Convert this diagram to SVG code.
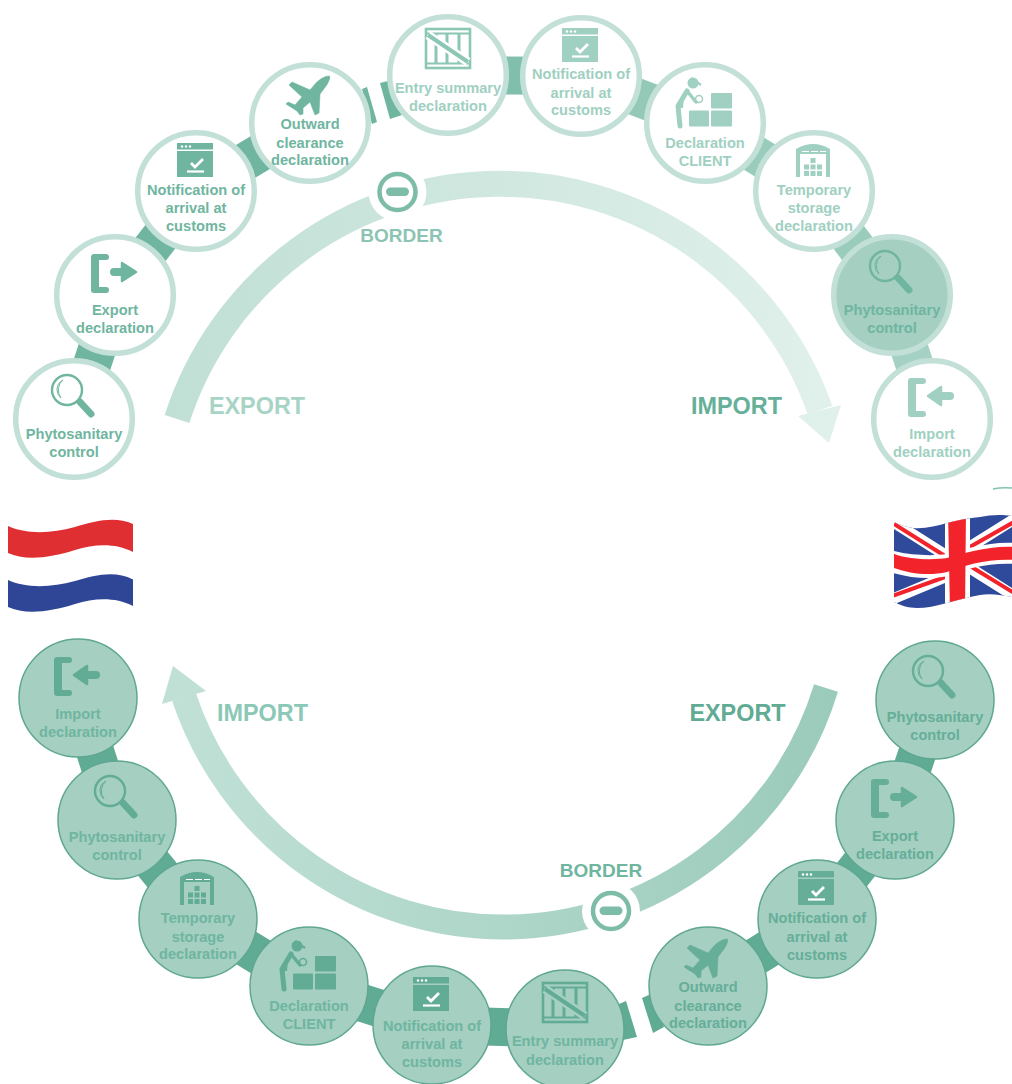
<svg xmlns="http://www.w3.org/2000/svg" width="1012" height="1084" viewBox="0 0 1012 1084">
<style>
text{font-family:"Liberation Sans",Arial,sans-serif;font-weight:bold;text-anchor:middle}
.n text{font-size:14.6px;fill:currentColor}
.big{font-size:23.4px}
.bd{font-size:19px}
.top circle.r{fill:#fff;stroke:#c2e0d7;stroke-width:5.5}
.dark circle.r{fill:#a4cfc1;stroke:#c2e0d7;stroke-width:5.5}
.bot circle.r{fill:#a4cfc1;stroke:#5fa792;stroke-width:1.5}
.c1{color:#6fb5a0}.c2{color:#a0d0c1}.c3{color:#66ae98}
.ln{fill:none;stroke-linecap:butt}
</style>
<defs>
<linearGradient id="ga" gradientUnits="userSpaceOnUse" x1="165" y1="0" x2="820" y2="0"><stop offset="0" stop-color="#c0dfd5"/><stop offset="1" stop-color="#e0f0eb"/></linearGradient>
<linearGradient id="gb" gradientUnits="userSpaceOnUse" x1="830" y1="0" x2="184" y2="0"><stop offset="0" stop-color="#9bcbbb"/><stop offset="1" stop-color="#c0e0d6"/></linearGradient>
<clipPath id="uk"><path d="M894,522C900,525 906,527 913,528C925,529 936,526 947,523C958,520 969,518 980,517C990,515 1000,514 1012,516L1012,597C1002,595 990,593 980,595C968,597 958,600 947,603C936,606 926,608 917,608C908,608 900,605 894,602Z"/></clipPath>
<g id="i-mag"><circle cx="-7" cy="-29" r="15" fill="none" stroke="currentColor" stroke-width="2.400"/><path d="M-17,-29A11,11 0 0 1 -11,-39A13,13 0 0 0 -13,-21A11,11 0 0 1 -17,-29Z" fill="none" stroke="currentColor" stroke-width="1"/><path d="M6,-17L17,-5" fill="none" stroke="currentColor" stroke-width="7" stroke-linecap="round"/></g>
<g id="i-brk"><path d="M-21,-41H-9A3,3 0 0 1 -9,-35H-16V-8H-9A3,3 0 0 1 -9,-2H-21A3,3 0 0 1 -24,-5V-38A3,3 0 0 1 -21,-41Z" fill="currentColor"/></g>
<g id="i-exp"><use href="#i-brk"/><path d="M-1,-23H11" stroke="currentColor" stroke-width="8" stroke-linecap="round"/><path d="M7,-32L21,-23L7,-14Z" fill="currentColor" stroke="currentColor" stroke-width="2.500" stroke-linejoin="round"/></g>
<g id="i-imp"><use href="#i-brk"/><path d="M6,-23H18" stroke="currentColor" stroke-width="8" stroke-linecap="round"/><path d="M9,-32L-4,-23L9,-14Z" fill="currentColor" stroke="currentColor" stroke-width="2.500" stroke-linejoin="round"/></g>
<g id="i-not"><path d="M-19,-48H17V-41.500H-19ZM-19,-40H17V-14H-19Z" fill="currentColor"/><circle cx="-14" cy="-44.500" r="1.200" fill="#fff"/><circle cx="-10" cy="-44.500" r="1.200" fill="#fff"/><circle cx="-6" cy="-44.500" r="1.200" fill="#fff"/><path d="M-5,-28L-1,-24L7,-32" fill="none" stroke="#fff" stroke-width="2.800"/><path d="M-9,-19.500H8" stroke="#fff" stroke-width="2.200"/></g>
<g id="i-plane"><path d="M19,-47C15,-47 10,-44 6,-40L0,-33L-18,-41L-21,-38L-8,-26L-15,-18L-22,-21L-24,-19L-13,-12L-10,-8L-7,-9L-7,-15L0,-21L5,-8L9,-10L10,-29L16,-37C19,-41 21,-47 19,-47Z" fill="currentColor" stroke="currentColor" stroke-width=".6" stroke-linejoin="round"/></g>
<g id="i-crate" fill="none" stroke="currentColor"><rect x="-22" y="-46" width="44" height="39" stroke-width="2.600"/><path d="M-22,-41.500H22M-22,-11.500H22" stroke-width="2"/><path d="M-12,-41V-12M-1,-41V-12M11,-41V-12" stroke-width="3"/><path d="M-20,-40L20,-13" stroke="#fff" stroke-width="9"/><path d="M-20,-40L20,-13" stroke-width="4"/></g>
<g id="i-per"><rect x="6" y="-30" width="21" height="15.500" fill="currentColor" rx="1"/><rect x="-16" y="-12.500" width="20" height="16" fill="currentColor" rx="1"/><rect x="6" y="-12.500" width="21" height="16" fill="currentColor" rx="1"/><circle cx="-12" cy="-40" r="5.500" fill="currentColor"/><path d="M-14,-45L-4,-38" stroke="currentColor" stroke-width="2.200"/><path d="M-18,-32L-27,-17L-25,3" fill="none" stroke="currentColor" stroke-width="5" stroke-linecap="round" stroke-linejoin="round"/><path d="M-18,-32L-9,-21" fill="none" stroke="currentColor" stroke-width="3.500" stroke-linecap="round"/><path d="M-21,-27L-26,-15L-22,-15Z" fill="currentColor"/><circle cx="-6" cy="-24" r="3.500" fill="none" stroke="currentColor" stroke-width="1.500"/></g>
<g id="i-wh"><path d="M-18,-14V-42Q-1,-52 16,-42V-14H12V-37H-14V-14Z" fill="currentColor"/><path d="M-12,-39.500h7M-3,-39.500h7M6,-39.500h6" stroke="#fff" stroke-width="1.200"/><path d="M-3.500,-33h5v5h-5zM-10,-26.500h5v5h-5zM-3.500,-26.500h5v5h-5zM3,-26.500h5v5h-5zM-10,-20h5v5h-5zM-3.500,-20h5v5h-5zM3,-20h5v5h-5z" fill="currentColor"/></g>
</defs>

<g id="connectors">
<g class="ln" stroke-width="38">
<path d="M74,419L115,295" stroke="#6fb5a0"/>
<path d="M115,295L196,191" stroke="#6fb5a0"/>
<path d="M196,191L310,123" stroke="#6fb5a0"/>
<path d="M448,75L581,76" stroke="#7fbfac"/>
<path d="M581,76L705,123" stroke="#94c9b8"/>
<path d="M705,123L814,191" stroke="#9accbc"/>
<path d="M814,191L892,295" stroke="#9accbc"/>
<path d="M892,295L932,419" stroke="#a4d1c3"/>
<path d="M78,698L117,820" stroke="#5fab94"/>
<path d="M117,820L198,919" stroke="#5fab94"/>
<path d="M198,919L309,986" stroke="#5fab94"/>
<path d="M309,986L432,1025" stroke="#5fab94"/>
<path d="M432,1025L565,1029" stroke="#5fab94"/>
<path d="M708,986L817,919" stroke="#5fab94"/>
<path d="M817,919L895,820" stroke="#5fab94"/>
<path d="M895,820L935,700" stroke="#5fab94"/>
</g>
<polygon points="362,89 367,87 377,122 372,124" fill="#6fb5a0"/>
<polygon points="380,83 388,81 402,115 390,119" fill="#6fb5a0"/>
<polygon points="642,998 651,994 664,1027 653,1033" fill="#5fab94"/>
<polygon points="619,1004 626,1001 637,1037 623,1040" fill="#5fab94"/>
</g>

<g id="flows">
<path d="M177,419A339.400,339.400 0 0 1 820,410" fill="none" stroke="url(#ga)" stroke-width="26"/>
<polygon points="798,416 841,405 829,443" fill="#e0f0eb"/>
<path d="M826,688A337,337 0 0 1 184,697" fill="none" stroke="url(#gb)" stroke-width="25"/>
<polygon points="162,704 206,691 173,666" fill="#c0e0d6"/>
</g>

<g id="border-top" color="#7dbca9">
<circle cx="397.500" cy="192" r="29" fill="#fff"/>
<circle cx="397.500" cy="192" r="18" fill="#fff" stroke="currentColor" stroke-width="4.500"/>
<rect x="386" y="187.500" width="23" height="8.500" rx="4.200" fill="currentColor"/>
<text class="bd" x="401.500" y="242" fill="#8cc4b3">BORDER</text>
</g>
<g id="border-bottom" color="#7dbca9">
<circle cx="611" cy="911" r="29" fill="#fff"/>
<circle cx="611" cy="911" r="18" fill="#fff" stroke="currentColor" stroke-width="4.500"/>
<rect x="599.500" y="906.500" width="23" height="8.500" rx="4.200" fill="currentColor"/>
<text class="bd" x="601" y="877" fill="#6fb5a0">BORDER</text>
</g>
<text class="big" x="257" y="414" fill="#a8d4c6">EXPORT</text>
<text class="big" x="736.500" y="414" fill="#66b09a">IMPORT</text>
<text class="big" x="262.500" y="721" fill="#8cc8b6">IMPORT</text>
<text class="big" x="737.500" y="721" fill="#5fab94">EXPORT</text>

<g id="top-phyto" class="n top c1" transform="translate(74,419)"><circle class="r" r="58.300"/><use href="#i-mag"/><text y="19.500">Phytosanitary</text><text y="38">control</text></g>
<g id="top-export" class="n top c1" transform="translate(115,295)"><circle class="r" r="58.300"/><use href="#i-exp"/><text y="20">Export</text><text y="38">declaration</text></g>
<g id="top-notification" class="n top c1" transform="translate(196,191)"><circle class="r" r="58.300"/><use href="#i-not"/><text y="4">Notification of</text><text y="22">arrival at</text><text y="40">customs</text></g>
<g id="top-outward" class="n top c1" transform="translate(310,123)"><circle class="r" r="58.300"/><use href="#i-plane"/><text y="6">Outward</text><text y="25">clearance</text><text y="42">declaration</text></g>
<g id="top-entry" class="n top c2" transform="translate(448,75)"><circle class="r" r="58.300"/><use href="#i-crate" color="#8cc6b5"/><text y="18">Entry summary</text><text y="36">declaration</text></g>
<g id="top-notification-2" class="n top c2" transform="translate(581,76)"><circle class="r" r="58.300"/><use href="#i-not"/><text y="3">Notification of</text><text y="22">arrival at</text><text y="39">customs</text></g>
<g id="top-declaration" class="n top c2" transform="translate(705,123)"><circle class="r" r="58.300"/><use href="#i-per"/><text y="25">Declaration</text><text y="43">CLIENT</text></g>
<g id="top-temporary" class="n top c2" transform="translate(814,191)"><circle class="r" r="58.300"/><use href="#i-wh"/><text y="4">Temporary</text><text y="22">storage</text><text y="40">declaration</text></g>
<g id="top-phyto-dark" class="n dark c1" transform="translate(892,295)"><circle class="r" r="58.300"/><use href="#i-mag"/><text y="20">Phytosanitary</text><text y="38">control</text></g>
<g id="top-import" class="n top c2" transform="translate(932,419)"><circle class="r" r="58.300"/><use href="#i-imp"/><text y="19.500">Import</text><text y="38">declaration</text></g>

<g id="bot-import" class="n bot c1" transform="translate(78,698)"><circle class="r" r="59"/><use href="#i-imp" color="#62ac96"/><text y="21" fill="#7fc0ad">Import</text><text y="39">declaration</text></g>
<g id="bot-phyto" class="n bot c1" transform="translate(117,820)"><circle class="r" r="59"/><use href="#i-mag" color="#62ac96"/><text y="22">Phytosanitary</text><text y="40">control</text></g>
<g id="bot-temporary" class="n bot c1" transform="translate(198,919)"><circle class="r" r="59"/><g color="#62ac96"><use href="#i-wh"/></g><text y="4">Temporary</text><text y="23">storage</text><text y="40">declaration</text></g>
<g id="bot-declaration" class="n bot c1" transform="translate(309,986)"><circle class="r" r="59"/><use href="#i-per" color="#62ac96"/><text y="25">Declaration</text><text y="43">CLIENT</text></g>
<g id="bot-notification" class="n bot c1" transform="translate(432,1025)"><circle class="r" r="59"/><use href="#i-not" color="#62ac96"/><text y="6">Notification of</text><text y="24">arrival at</text><text y="42">customs</text></g>
<g id="bot-entry" class="n bot c1" transform="translate(565,1029)"><circle class="r" r="59"/><g class="crate-b" color="#62ac96"><rect x="-22" y="-46" width="44" height="39" fill="none" stroke="currentColor" stroke-width="2.600"/><path d="M-22,-41.500H22M-22,-11.500H22" fill="none" stroke="currentColor" stroke-width="2"/><path d="M-12,-41V-12M-1,-41V-12M11,-41V-12" fill="none" stroke="currentColor" stroke-width="3"/><path d="M-20,-40L20,-13" stroke="#a4cfc1" stroke-width="9"/><path d="M-20,-40L20,-13" stroke="currentColor" stroke-width="4"/></g><text y="17">Entry summary</text><text y="36">declaration</text></g>
<g id="bot-outward" class="n bot c3" transform="translate(708,986)"><circle class="r" r="59"/><use href="#i-plane"/><text y="6">Outward</text><text y="25">clearance</text><text y="42">declaration</text></g>
<g id="bot-notification-2" class="n bot c3" transform="translate(817,919)"><circle class="r" r="59"/><use href="#i-not"/><text y="4">Notification of</text><text y="23">arrival at</text><text y="41">customs</text></g>
<g id="bot-export" class="n bot c3" transform="translate(895,820)"><circle class="r" r="59"/><use href="#i-exp"/><text y="21">Export</text><text y="39">declaration</text></g>
<g id="bot-phyto-2" class="n bot c3" transform="translate(935,700)"><circle class="r" r="59"/><use href="#i-mag"/><text y="21.500">Phytosanitary</text><text y="40">control</text></g>

<g id="flag-nl">
<path d="M8,526C25,534 50,534 75,527C95,521 115,516 133,524L133,552C115,543 95,544 75,550C50,558 25,561 8,553Z" fill="#e02f33"/>
<path d="M8,580C25,588 50,588 75,581C95,575 115,570 133,579.500L133,606C115,597 95,598 75,604C50,612 25,615 8,607Z" fill="#2f4595"/>
</g>
<g id="flag-uk" clip-path="url(#uk)">
<rect x="890" y="510" width="125" height="102" fill="#2f4a9b"/>
<path d="M890,520L950,558M1016,518L965,550M890,600L950,575M970,568L1016,597" stroke="#fff" stroke-width="11" fill="none"/>
<path d="M894,524L945,556M1014,522L968,548M892,596L945,577M970,566L1014,593" stroke="#f2232b" stroke-width="4" fill="none"/>
<path d="M945,510L970,510L970,612L945,612Z" fill="#fff"/>
<path d="M890,550C910,556 935,556 947,554C965,549 990,541 1016,543L1016,564C990,562 965,569 947,576C930,580 910,578 890,572Z" fill="#fff"/>
<path d="M894,554C910,560 935,560 947,558C965,553 990,545 1016,547L1016,560C990,558 965,565 947,572C930,576 910,574 894,568Z" fill="#f2232b"/>
<path d="M948,510L966,510L965,612L950,612Z" fill="#f2232b"/>
<path d="M890,554V568" stroke="#f2232b" stroke-width="10"/>
</g>
<path d="M993,489Q1002,487 1012,488" fill="none" stroke="#7fc4b0" stroke-width="1.500"/>
</svg>
